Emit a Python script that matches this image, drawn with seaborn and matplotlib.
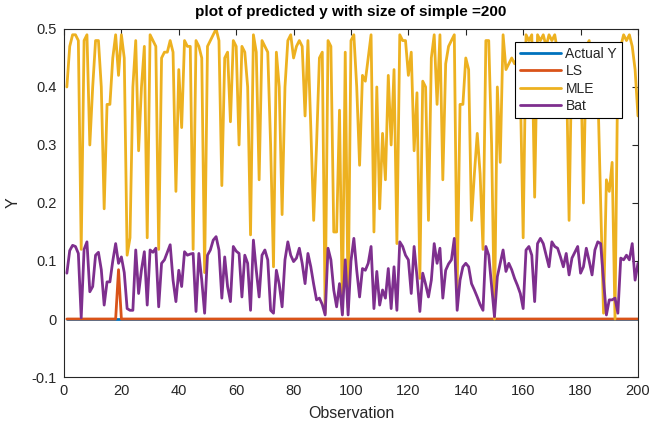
import numpy as np
import pandas as pd
import matplotlib
matplotlib.use("Agg")
import matplotlib.pyplot as plt
import seaborn as sns

observation = list(range(1, 201))

actual_y = [0.0] * 200

ls_vals = [0.0] * 200
ls_vals[18] = 0.085  # spike at observation 19

mle_vals = [
    0.40, 0.47, 0.49, 0.49, 0.48, 0.12, 0.48, 0.49, 0.30, 0.40,
    0.48, 0.48, 0.40, 0.19, 0.37, 0.37, 0.45, 0.49, 0.42, 0.49,
    0.45, 0.11, 0.14, 0.40, 0.48, 0.29, 0.40, 0.47, 0.14, 0.49,
    0.48, 0.47, 0.12, 0.45, 0.46, 0.46, 0.48, 0.46, 0.22, 0.43,
    0.33, 0.48, 0.47, 0.47, 0.12, 0.48, 0.47, 0.45, 0.08, 0.47,
    0.48, 0.49, 0.50, 0.48, 0.23, 0.45, 0.46, 0.34, 0.48, 0.47,
    0.30, 0.47, 0.46, 0.40, 0.145, 0.49, 0.46, 0.24, 0.48, 0.47,
    0.46, 0.30, 0.09, 0.46, 0.40, 0.18, 0.40, 0.48, 0.49, 0.45,
    0.47, 0.48, 0.47, 0.35, 0.48, 0.33, 0.17, 0.30, 0.45, 0.46,
    0.01, 0.48, 0.47, 0.15, 0.15, 0.36, 0.01, 0.46, 0.02, 0.48,
    0.49, 0.40, 0.265, 0.42, 0.41, 0.45, 0.49, 0.15, 0.40, 0.19,
    0.32, 0.24, 0.42, 0.30, 0.43, 0.13, 0.49, 0.48, 0.48, 0.42,
    0.46, 0.29, 0.39, 0.07, 0.41, 0.40, 0.17, 0.45, 0.49, 0.37,
    0.49, 0.24, 0.44, 0.47, 0.48, 0.49, 0.05, 0.37, 0.37, 0.45,
    0.43, 0.17, 0.25, 0.32, 0.25, 0.12, 0.48, 0.48, 0.30, 0.00,
    0.40, 0.27, 0.49, 0.43, 0.44, 0.45, 0.44, 0.45, 0.40, 0.14,
    0.49, 0.48, 0.49, 0.21, 0.49, 0.48, 0.49, 0.47, 0.49, 0.48,
    0.49, 0.46, 0.44, 0.47, 0.45, 0.17, 0.47, 0.45, 0.42, 0.46,
    0.20, 0.47, 0.48, 0.44, 0.42, 0.40, 0.20, 0.01, 0.24, 0.22,
    0.27, 0.00, 0.45, 0.47, 0.49, 0.48, 0.49, 0.47, 0.43, 0.35,
]

bat_vals = [
    0.079, 0.118, 0.127, 0.125, 0.113, 0.002, 0.120, 0.133, 0.047, 0.056,
    0.110, 0.115, 0.085, 0.024, 0.064, 0.064, 0.100, 0.130, 0.096, 0.107,
    0.080, 0.018, 0.015, 0.015, 0.119, 0.044, 0.085, 0.116, 0.024, 0.119,
    0.115, 0.122, 0.021, 0.096, 0.102, 0.115, 0.128, 0.067, 0.030, 0.084,
    0.056, 0.116, 0.110, 0.112, 0.113, 0.013, 0.113, 0.067, 0.010, 0.110,
    0.119, 0.136, 0.142, 0.119, 0.036, 0.107, 0.056, 0.030, 0.125, 0.117,
    0.113, 0.038, 0.110, 0.096, 0.015, 0.136, 0.084, 0.038, 0.110, 0.119,
    0.102, 0.015, 0.010, 0.084, 0.060, 0.021, 0.102, 0.133, 0.110, 0.099,
    0.105, 0.122, 0.096, 0.061, 0.113, 0.090, 0.060, 0.033, 0.036, 0.025,
    0.007, 0.122, 0.102, 0.050, 0.021, 0.061, 0.007, 0.102, 0.007, 0.100,
    0.139, 0.084, 0.038, 0.087, 0.084, 0.096, 0.125, 0.018, 0.082, 0.024,
    0.050, 0.036, 0.087, 0.018, 0.090, 0.015, 0.133, 0.125, 0.110, 0.102,
    0.044, 0.125, 0.073, 0.013, 0.079, 0.060, 0.038, 0.067, 0.130, 0.096,
    0.122, 0.036, 0.084, 0.095, 0.102, 0.139, 0.015, 0.067, 0.090, 0.096,
    0.090, 0.061, 0.050, 0.038, 0.025, 0.015, 0.125, 0.110, 0.056, 0.004,
    0.073, 0.096, 0.119, 0.082, 0.096, 0.085, 0.070, 0.058, 0.044, 0.018,
    0.119, 0.125, 0.110, 0.030, 0.130, 0.139, 0.130, 0.110, 0.090, 0.133,
    0.125, 0.122, 0.107, 0.090, 0.113, 0.076, 0.105, 0.115, 0.125, 0.079,
    0.090, 0.122, 0.100, 0.076, 0.119, 0.133, 0.130, 0.067, 0.007, 0.033,
    0.033, 0.036, 0.010, 0.105, 0.102, 0.110, 0.102, 0.130, 0.067, 0.096,
]

series_names = ["Actual Y", "LS", "MLE", "Bat"]
series_colors = ["#0072BD", "#D95319", "#EDB120", "#7E2F8E"]
x_ticks = list(range(0, 201, 20))
y_ticks = [-0.1, 0.0, 0.1, 0.2, 0.3, 0.4, 0.5]
y_tick_labels = ["-0.1", "0", "0.1", "0.2", "0.3", "0.4", "0.5"]

df = pd.DataFrame({
    "Observation": observation * 4,
    "Y": actual_y + ls_vals + mle_vals + bat_vals,
    "Series": sum([[n] * 200 for n in series_names], []),
})

sns.set_style("white")
plt.rcParams["font.family"] = ["Liberation Sans", "DejaVu Sans"]

fig = plt.figure(figsize=(6.49, 4.26), dpi=100)
ax = fig.add_axes([0.0986, 0.115, 0.8844, 0.817])

sns.lineplot(data=df, x="Observation", y="Y", hue="Series",
             hue_order=series_names, palette=series_colors,
             linewidth=2.0, ax=ax, estimator=None, sort=False)

ax.set_xlim(0, 200)
ax.set_ylim(-0.1, 0.5)
ax.set_xticks(x_ticks)
ax.set_xticklabels([str(t) for t in x_ticks], fontsize=10.5, color="#262626")
ax.set_yticks(y_ticks)
ax.set_yticklabels(y_tick_labels, fontsize=10.5, color="#262626")
ax.tick_params(direction="in", length=4, width=0.8, colors="#262626",
               top=True, right=True, labelcolor="#262626", pad=5)
for s in ax.spines.values():
    s.set_color("#262626")
    s.set_linewidth(0.8)

ax.set_xlabel("Observation", fontsize=11.5, color="#262626", labelpad=6)
ax.set_ylabel("Y", fontsize=11.5, color="#262626", labelpad=8)
ax.set_title("plot of predicted y with size of simple =200", fontsize=11,
             fontweight="bold", color="black", pad=9)

leg = ax.legend(loc="upper right", bbox_to_anchor=(0.972, 0.963),
                fontsize=10, frameon=True, fancybox=False, framealpha=1,
                borderpad=0.35, labelspacing=0.25, handlelength=3.0,
                handletextpad=0.3, borderaxespad=0.0)
leg.get_frame().set_edgecolor("black")
leg.get_frame().set_linewidth(0.8)
leg.set_title(None)

fig.savefig("out.png", dpi=100)
